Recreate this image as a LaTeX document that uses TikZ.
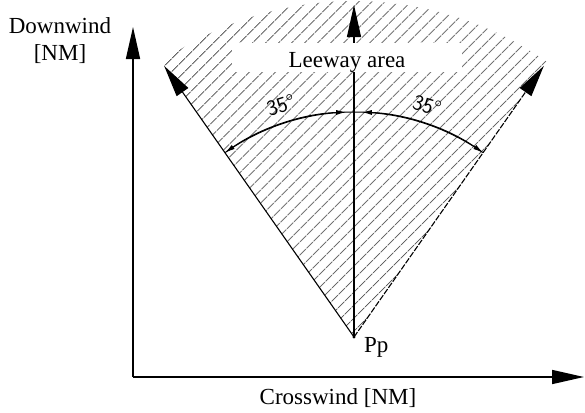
\documentclass[tikz,border=0pt]{standalone}
\usepackage{fontspec}
\setmainfont{Liberation Serif}
\usetikzlibrary{arrows.meta,patterns.meta,calc}
\tikzset{
  txt/.style={font=\fontsize{23bp}{27bp}\selectfont, inner sep=0pt},
  angtxt/.style={font=\sffamily\fontsize{22bp}{24bp}\selectfont, inner sep=0pt},
  bigarrow/.style={-{Triangle[length=32bp,width=14bp]}},
  axisline/.style={line width=1.6bp, bigarrow},
  rayline/.style={line width=1.1bp, bigarrow},
  dimline/.style={line width=1bp},
  dimarrows/.style={line width=1bp, {Latex[length=10bp,width=5bp]}-{Latex[length=10bp,width=5bp]}},
  hatch/.style={pattern={Lines[angle=45,distance=10bp,line width=0.9bp]}, pattern color=black!78}
}
\begin{document}
\begin{tikzpicture}[x=1bp,y=1bp]
\useasboundingbox (0,0) rectangle (585,412);
% key points
\coordinate (Pp) at (354,75);
\coordinate (O) at (133,35);
\coordinate (Ytip) at (133,385);
\coordinate (Xtip) at (584,35);
\coordinate (Ltip) at ($(Pp)+(125:331)$);
\coordinate (Ctip) at ($(Pp)+(90:332)$);
\coordinate (Rtip) at ($(Pp)+(55:331)$);
\coordinate (dL) at ($(Pp)+(125:225)$);
\coordinate (dR) at ($(Pp)+(88:225)$);
% hatched sector
\fill[hatch] (Pp) -- ($(Pp)+(125:336)$) arc[start angle=125,end angle=55,radius=336] -- cycle;
% centre arrow
\draw[rayline] (Pp) -- (Ctip);
% label box
\node[fill=white, minimum width=230bp, minimum height=29bp, inner sep=0pt] (box) at (347,354.5) {};
\node[txt, anchor=base] (leeway) at (347,345) {Leeway area};
% rays
\draw[rayline] (Pp) -- (Ltip);
\draw[rayline, dash pattern=on 6bp off 1.5bp] (Pp) -- (Rtip);
% axes
\draw[axisline] (O) -- (Ytip);
\draw[axisline] (O) -- (Xtip);
% dimension arc
\draw[dimline] (dL) arc[start angle=125,end angle=55,radius=225];
\draw[dimarrows] (dL) arc[start angle=125,end angle=92,radius=225];
\draw[dimarrows] (dR) arc[start angle=88,end angle=55,radius=225];
\node[angtxt, rotate=17.5] (aL) at ($(Pp)+(107.5:243)$) {35°};
\node[angtxt, rotate=-17.5] (aR) at ($(Pp)+(72.5:243)$) {35°};
% Pp
\fill (Pp) circle[radius=1.6bp];
\node[txt, anchor=base west] (pplabel) at (364,60) {Pp};
% axis labels
\node[txt, anchor=north, align=center] (ylabel) at (60,395) {Downwind\\{[NM]}};
\node[txt, anchor=base] (xlabel) at (338,8) {Crosswind [NM]};
\end{tikzpicture}
\end{document}
